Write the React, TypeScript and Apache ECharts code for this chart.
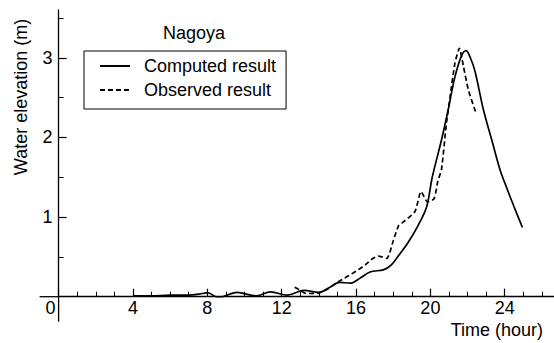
import React, { useEffect, useRef } from "react";
import * as echarts from "echarts";

// Computed result (solid line): time (hour) / water elevation (m)
const computedHours = [4.0, 5.0, 6.0, 7.0, 7.75, 8.0, 8.6, 9.6, 10.6, 11.4, 12.3, 13.2, 14.0, 14.6, 15.1, 15.7, 16.2, 16.75, 17.5, 17.9, 18.3, 18.8, 19.35, 19.8, 20.1, 20.6, 20.96, 21.32, 21.7, 21.92, 22.15, 22.4, 22.85, 23.3, 23.75, 24.0, 24.5, 24.95];
const computedElev = [0.01, 0.01, 0.02, 0.02, 0.04, 0.05, -0.01, 0.055, 0.01, 0.06, 0.02, 0.08, 0.055, 0.12, 0.18, 0.17, 0.23, 0.31, 0.34, 0.4, 0.52, 0.68, 0.9, 1.13, 1.5, 1.97, 2.35, 2.76, 3.04, 3.09, 3.0, 2.83, 2.35, 1.97, 1.59, 1.43, 1.13, 0.87];

// Observed result (dashed line)
const observedHours = [12.7, 13.0, 13.3, 14.0, 14.5, 15.0, 15.5, 16.0, 16.5, 16.9, 17.2, 17.65, 18.0, 18.3, 18.5, 19.17, 19.5, 19.85, 20.2, 20.4, 20.6, 20.85, 21.06, 21.32, 21.56, 21.78, 22.04, 22.46];
const observedElev = [0.12, 0.08, 0.04, 0.045, 0.1, 0.18, 0.25, 0.32, 0.4, 0.48, 0.51, 0.48, 0.7, 0.9, 0.93, 1.07, 1.32, 1.19, 1.23, 1.45, 1.6, 2.15, 2.51, 2.93, 3.12, 2.89, 2.6, 2.3];

// Axis ticks and labels
const xMajorTicks = [0, 4, 8, 12, 16, 20, 24];
const yMajorTicks = [1, 2, 3];

const seriesNames = ["Computed result", "Observed result"];
const chartTitle = "Nagoya";
const xAxisTitle = "Time (hour)";
const yAxisTitle = "Water elevation (m)";

const FONT = "'Liberation Sans', Arial, Helvetica, sans-serif";
const INK = "#000";

export default function App() {
  const ref = useRef<HTMLDivElement>(null);

  useEffect(() => {
    if (!ref.current) return;
    const chart = echarts.init(ref.current, null, { renderer: "svg" });
    const computedData = computedHours.map((t, i) => [t, computedElev[i]]);
    const observedData = observedHours.map((t, i) => [t, observedElev[i]]);

    chart.setOption({
      animation: false,
      backgroundColor: "#fff",
      textStyle: { fontFamily: FONT, color: INK },
      title: {
        text: chartTitle,
        left: 163,
        top: 24,
        padding: 0,
        textStyle: { fontFamily: FONT, fontSize: 18, fontWeight: "normal", color: INK },
      },
      legend: {
        data: seriesNames,
        orient: "vertical",
        left: 84,
        top: 51,
        padding: [6, 10, 10, 15],
        itemGap: 6,
        itemWidth: 30,
        itemHeight: 12,
        borderColor: INK,
        borderWidth: 1,
        borderRadius: 0,
        itemStyle: { opacity: 0, borderWidth: 0 },
        textStyle: { fontFamily: FONT, fontSize: 18, color: INK, padding: [0, 0, 0, 9] },
      },
      grid: { left: 58.6, right: 0, top: 10, bottom: 46.3, containLabel: false },
      xAxis: {
        type: "value",
        min: 0,
        max: 26.65,
        interval: 4,
        splitLine: { show: false },
        axisLine: { show: true, onZero: false, lineStyle: { color: INK, width: 1.3 } },
        axisTick: { show: true, inside: true, length: 8, customValues: xMajorTicks, lineStyle: { color: INK, width: 1.2 } },
        minorTick: { show: true, splitNumber: 4, length: 5, lineStyle: { color: INK, width: 1 } },
        axisLabel: {
          show: true,
          customValues: xMajorTicks,
          margin: 2,
          fontFamily: FONT,
          fontSize: 18,
          color: INK,
          formatter: (v: number) => (v === 0 ? "{z|0}" : String(v)),
          rich: { z: { fontFamily: FONT, fontSize: 18, color: INK, padding: [0, 16, 0, 0] } },
        },
      },
      yAxis: {
        type: "value",
        min: 0,
        max: 3.6,
        interval: 1,
        splitLine: { show: false },
        axisLine: { show: true, onZero: false, lineStyle: { color: INK, width: 1.3 } },
        axisTick: { show: true, inside: true, length: 8, customValues: yMajorTicks, lineStyle: { color: INK, width: 1.2 } },
        minorTick: { show: true, splitNumber: 2, length: 5, lineStyle: { color: INK, width: 1 } },
        axisLabel: { show: true, customValues: yMajorTicks, margin: 6, fontFamily: FONT, fontSize: 18, color: INK },
      },
      series: [
        {
          name: seriesNames[0],
          type: "line",
          data: computedData,
          smooth: 0.35,
          symbol: "none",
          showSymbol: false,
          itemStyle: { color: INK },
          lineStyle: { color: INK, width: 1.7, type: "solid" },
        },
        {
          name: seriesNames[1],
          type: "line",
          data: observedData,
          smooth: 0.2,
          symbol: "none",
          showSymbol: false,
          itemStyle: { color: INK },
          lineStyle: { color: INK, width: 1.7, type: [5, 3] },
        },
      ],
    });

    // Axis titles and the short extensions of both axis lines past the origin
    const origin = chart.convertToPixel({ gridIndex: 0 }, [0, 0]) as number[];
    const ox = origin[0];
    const oy = origin[1];
    chart.setOption({
      graphic: [
        {
          type: "line",
          shape: { x1: ox - 19, y1: oy, x2: ox, y2: oy },
          style: { stroke: INK, lineWidth: 1.3 },
        },
        {
          type: "line",
          shape: { x1: ox, y1: oy, x2: ox, y2: oy + 25 },
          style: { stroke: INK, lineWidth: 1.3 },
        },
        {
          type: "text",
          x: 21,
          y: 97,
          rotation: Math.PI / 2,
          style: {
            text: yAxisTitle,
            fontFamily: FONT,
            fontSize: 18,
            fill: INK,
            align: "center",
            verticalAlign: "middle",
          },
        },
        {
          type: "text",
          x: 543,
          y: 330,
          style: {
            text: xAxisTitle,
            fontFamily: FONT,
            fontSize: 18,
            fill: INK,
            align: "right",
            verticalAlign: "middle",
          },
        },
      ],
    });

    return () => chart.dispose();
  }, []);

  return <div ref={ref} style={{ width: 554, height: 343, position: "absolute", left: 0, top: 0 }} />;
}
